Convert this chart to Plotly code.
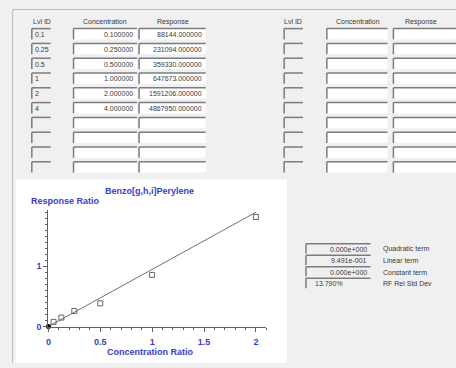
import plotly.graph_objects as go

# ---------------- data ----------------
lvl_ids = ["0.1", "0.25", "0.5", "1", "2", "4"]
concentrations = [0.1, 0.25, 0.5, 1.0, 2.0, 4.0]
responses = [88144, 231094, 359330, 647673, 1591206, 4867950]

conc_ratio = [0.05, 0.125, 0.25, 0.5, 1.0, 2.0]
resp_ratio = [0.077, 0.148, 0.258, 0.385, 0.857, 1.82]

fit_x = [0.0, 2.0]
fit_y = [0.0, 1.898]

coef_values = ["0.000e+000", "9.491e-001", "0.000e+000", "13.790%"]
coef_labels = ["Quadratic term", "Linear term", "Constant term", "RF Rel Std Dev"]

x_ticks = [0, 0.5, 1, 1.5, 2]
x_ticktext = ["0", "0.5", "1", "1.5", "2"]
y_ticks = [0, 1]
y_ticktext = ["0", "1"]

compound = "Benzo[g,h,i]Perylene"
y_title = "Response Ratio"
x_title = "Concentration Ratio"
headers = ["Lvl ID", "Concentration", "Response"]

# ---------------- helpers ----------------
W, H = 456, 368
def px(x): return x / W
def py(y): return 1 - y / H

BLUE = "#3a3ad6"
BG = "#f0f0f0"
EDGE = "#7c7c7c"
TXT = "#3a3a3a"
DFONT = "Liberation Sans"

shapes = []
annotations = []

def line(x0, y0, x1, y1, color=EDGE, w=1):
    shapes.append(dict(type="line", xref="paper", yref="paper",
                       x0=px(x0), y0=py(y0), x1=px(x1), y1=py(y1),
                       line=dict(color=color, width=w), layer="below"))

def rect(x0, y0, x1, y1, fill):
    shapes.append(dict(type="rect", xref="paper", yref="paper",
                       x0=px(x0), y0=py(y0), x1=px(x1), y1=py(y1),
                       fillcolor=fill, line=dict(width=0), layer="below"))

def box(x0, y0, x1, y1, fill):
    rect(x0, y0, x1, y1, fill)
    line(x0, y0, x1, y0, EDGE, 1.5)
    line(x0, y0, x0, y1, EDGE, 1.5)

def text(x, y, s, anchor="left", size=7, color=TXT, bold=False, font=DFONT):
    if bold:
        s = "<b>" + s + "</b>"
    annotations.append(dict(xref="paper", yref="paper", x=px(x), y=py(y),
                            text=s, showarrow=False, xanchor=anchor, yanchor="middle",
                            font=dict(family=font, size=size, color=color)))

# group frame (etched)
line(10, 10, 456, 10, "#a0a0a0", 1)
line(11, 11, 456, 11, "#ffffff", 1)
line(10, 10, 10, 368, "#a0a0a0", 1)
line(11, 11, 11, 368, "#ffffff", 1)

# white chart panel
rect(13, 182, 286, 368, "#ffffff")

# tables
groups = [(29, 48, 71, 135, 137, 204), (283, 302, 326, 387, 393, 462)]
hdr_centers = [(39, 103, 171), (292, 357, 421)]
hdr_y = 22
for gi, (l0, l1, c0, c1, r0, r1) in enumerate(groups):
    for hx, h in zip(hdr_centers[gi], headers):
        text(hx, hdr_y, h, anchor="center")
    for i in range(10):
        top = 29 + 15 * i
        bot = top + 11
        box(l0, top, l1, bot, BG)
        box(c0, top, c1, bot, "#ffffff")
        box(r0, top, r1, bot, "#ffffff")
        if gi == 0 and i < len(lvl_ids):
            ym = (top + bot) / 2 + 0.5
            text(l0 + 1, ym, lvl_ids[i])
            text(c1 - 2, ym, f"{concentrations[i]:.6f}", anchor="right")
            text(r1 - 2, ym, f"{responses[i]:.6f}", anchor="right")

# coefficient boxes
for i, (v, lab) in enumerate(zip(coef_values, coef_labels)):
    top = 247 + 11.7 * i
    bot = top + 10
    box(305, top, 370, bot, BG)
    ym = (top + bot) / 2 + 0.5
    if v.endswith("%"):
        text(312, ym, v)
    else:
        text(368, ym, v, anchor="right")
    text(380, ym, lab)

# chart labels
text(147, 194, compound, anchor="center", size=9, color=BLUE, bold=True)
text(26, 204, y_title, anchor="left", size=9, color=BLUE, bold=True)
text(148, 357, x_title, anchor="center", size=9, color=BLUE, bold=True)

fig = go.Figure()
fig.add_trace(go.Scatter(x=fit_x, y=fit_y, mode="lines",
                         line=dict(color="#707070", width=1), hoverinfo="skip",
                         showlegend=False, cliponaxis=False))
fig.add_trace(go.Scatter(x=conc_ratio, y=resp_ratio, mode="markers",
                         marker=dict(symbol="square-open", size=5,
                                     color="#666666", line=dict(width=1, color="#666666")),
                         showlegend=False, cliponaxis=False))
fig.add_trace(go.Scatter(x=[0], y=[0], mode="markers",
                         marker=dict(symbol="circle", size=5, color="#000000"),
                         showlegend=False, cliponaxis=False))

fig.update_layout(
    width=W, height=H,
    margin=dict(l=0, r=0, t=0, b=0),
    paper_bgcolor=BG, plot_bgcolor="rgba(0,0,0,0)",
    shapes=shapes, annotations=annotations,
    xaxis=dict(domain=[px(45.7), px(265)], range=[0, 2.1],
               showline=True, linecolor="#606060", linewidth=1,
               showgrid=False, zeroline=False,
               tickvals=x_ticks, ticktext=x_ticktext,
               ticks="outside", ticklen=4, tickcolor="#606060", tickwidth=1,
               ticklabelstandoff=3,
               minor=dict(dtick=0.1, tick0=0, ticks="outside", ticklen=2,
                          tickcolor="#606060", showgrid=False),
               tickfont=dict(family="Liberation Sans", size=9, color=BLUE, weight="bold"),
               fixedrange=True),
    yaxis=dict(domain=[py(331), py(213)], range=[0, 1.934],
               showline=True, linecolor="#606060", linewidth=1,
               showgrid=False, zeroline=False,
               tickvals=y_ticks, ticktext=y_ticktext,
               ticks="outside", ticklen=4, tickcolor="#606060", tickwidth=1,
               minor=dict(dtick=0.1, tick0=0, ticks="outside", ticklen=2,
                          tickcolor="#606060", showgrid=False),
               tickfont=dict(family="Liberation Sans", size=9, color=BLUE, weight="bold"),
               fixedrange=True),
)

fig.write_html("out.html", config={"displayModeBar": False},
               post_script="document.body.style.margin='0';document.body.style.overflow='hidden';")
